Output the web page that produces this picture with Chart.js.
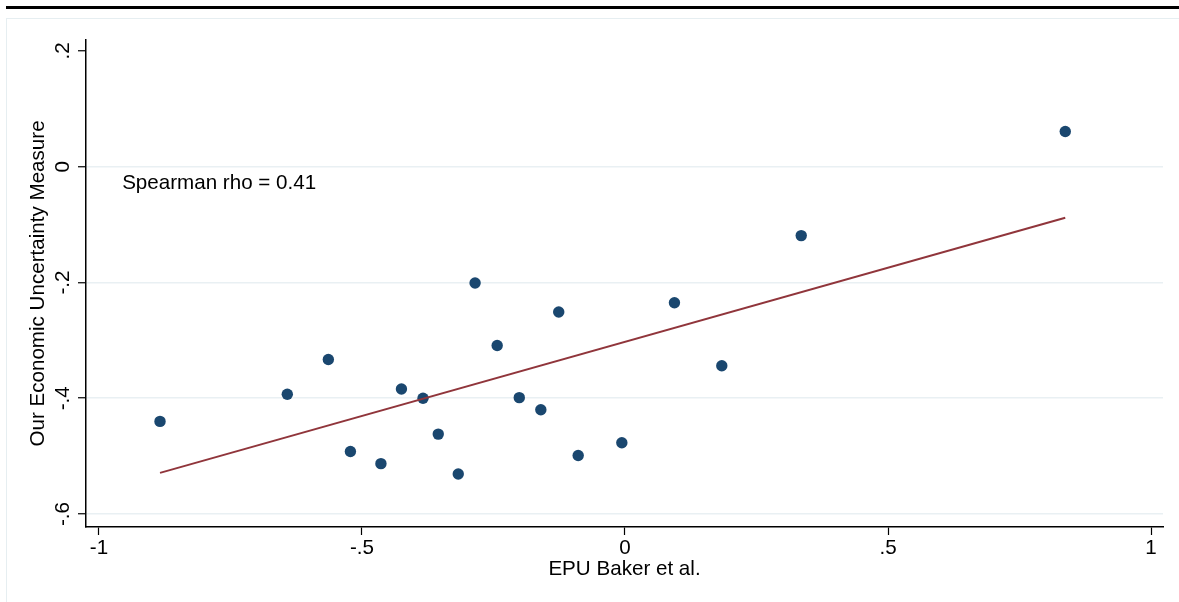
<!DOCTYPE html>
<html>
<head>
<meta charset="utf-8">
<script src="https://cdn.jsdelivr.net/npm/chart.js@4/dist/chart.umd.min.js"></script>
<style>
body{margin:0;background:#fff;font-family:"Liberation Sans",Arial,sans-serif}
#wrap{position:relative;width:1179px;height:602px;overflow:hidden}
#rule{position:absolute;left:6px;right:0;top:6px;height:3px;background:#000}
#box{position:absolute;left:6px;top:18px;width:1200px;height:620px;border:1px solid #e6eef1;box-sizing:border-box}
canvas{position:absolute;left:0;top:0}
</style>
</head>
<body>
<div id="wrap">
<div id="rule"></div>
<div id="box"></div>
<canvas id="grafik" width="1179" height="602"></canvas>
</div>
<script>
// EPU Baker et al. (x) vs our measure (y)
let epuX=[-0.884,-0.642,-0.564,-0.522,-0.464,-0.425,-0.384,-0.355,-0.317,-0.285,-0.243,-0.201,-0.160,-0.126,-0.089,-0.006,0.094,0.184,0.335,0.837]
let ukurY=[-0.440,-0.393,-0.333,-0.492,-0.513,-0.384,-0.400,-0.462,-0.531,-0.201,-0.309,-0.399,-0.420,-0.251,-0.499,-0.477,-0.235,-0.344,-0.119,0.061]

// fitted line end points
let garisX=[-0.884,0.837]
let garisY=[-0.529,-0.088]

let xTicks=[-1,-0.5,0,0.5,1]
let xLabels=["-1","-.5","0",".5","1"]
let yTicks=[0.2,0,-0.2,-0.4,-0.6]
let yLabels=[".2","0","-.2","-.4","-.6"]

let teksRho="Spearman rho = 0.41"
let posisiRho=[-0.956,-0.029]

let titik=epuX.map((x,i)=>({x:x,y:ukurY[i]}))
let garis=garisX.map((x,i)=>({x:x,y:garisY[i]}))

let font20={family:"'Liberation Sans', Arial, sans-serif",size:20.6}

let tulisan={
id:"tulisan",
afterDraw(chart){
let c=chart.ctx
let sx=chart.scales.x
let sy=chart.scales.y
c.save()
c.fillStyle="#000"
c.font="20.6px 'Liberation Sans', Arial, sans-serif"
// rotated y tick labels
yTicks.forEach((v,i)=>{
let py=sy.getPixelForValue(v)
c.save()
c.translate(69,py)
c.rotate(-Math.PI/2)
c.textAlign="center"
c.textBaseline="alphabetic"
c.fillText(yLabels[i],0,0)
c.restore()
})
// annotation
c.textAlign="left"
c.textBaseline="middle"
c.fillText(teksRho,sx.getPixelForValue(posisiRho[0]),sy.getPixelForValue(posisiRho[1]))
c.restore()
}
}

let ctx=document.getElementById("grafik")

let chart=new Chart(ctx,{
type:"scatter",
data:{
datasets:[
{
data:titik,
backgroundColor:"#1a476f",
borderWidth:0,
pointRadius:5.7,
pointHoverRadius:5.7,
order:1
},
{
type:"line",
data:garis,
showLine:true,
borderColor:"#90353b",
borderWidth:2,
pointRadius:0,
fill:false,
order:0
}
]
},
options:{
responsive:false,
animation:false,
events:[],
layout:{padding:{top:40,right:16,left:0,bottom:0}},
plugins:{legend:{display:false},tooltip:{enabled:false}},
scales:{
x:{
type:"linear",
min:-1.0247,
max:1.0228,
afterBuildTicks(s){s.ticks=xTicks.map(v=>({value:v}))},
afterFit(s){s.height=75},
ticks:{
color:"#000",
font:font20,
padding:1,
maxRotation:0,
callback(v){let i=xTicks.indexOf(v);return i>=0?xLabels[i]:""}
},
grid:{drawOnChartArea:false,drawTicks:true,tickLength:8,tickColor:"#000",tickWidth:1.2},
border:{display:true,color:"#000",width:1.5},
title:{display:true,text:"EPU Baker et al.",color:"#000",font:font20,padding:{top:0,bottom:20}}
},
y:{
type:"linear",
min:-0.6225,
max:0.219,
afterBuildTicks(s){s.ticks=yTicks.map(v=>({value:v}))},
afterFit(s){s.width=86},
ticks:{color:"transparent",font:font20,callback(v){return ""}},
grid:{
color(c){return c.tick&&c.tick.value==0.2?"transparent":"#e9f0f3"},
lineWidth:1.5,
drawTicks:true,
tickLength:8,
tickColor:"#000",
tickWidth:1.2
},
border:{display:true,color:"#000",width:1.5},
title:{display:true,text:"Our Economic Uncertainty Measure",color:"#000",font:font20,padding:{top:26,bottom:0}}
}
}
},
plugins:[tulisan]
})
</script>
</body>
</html>
